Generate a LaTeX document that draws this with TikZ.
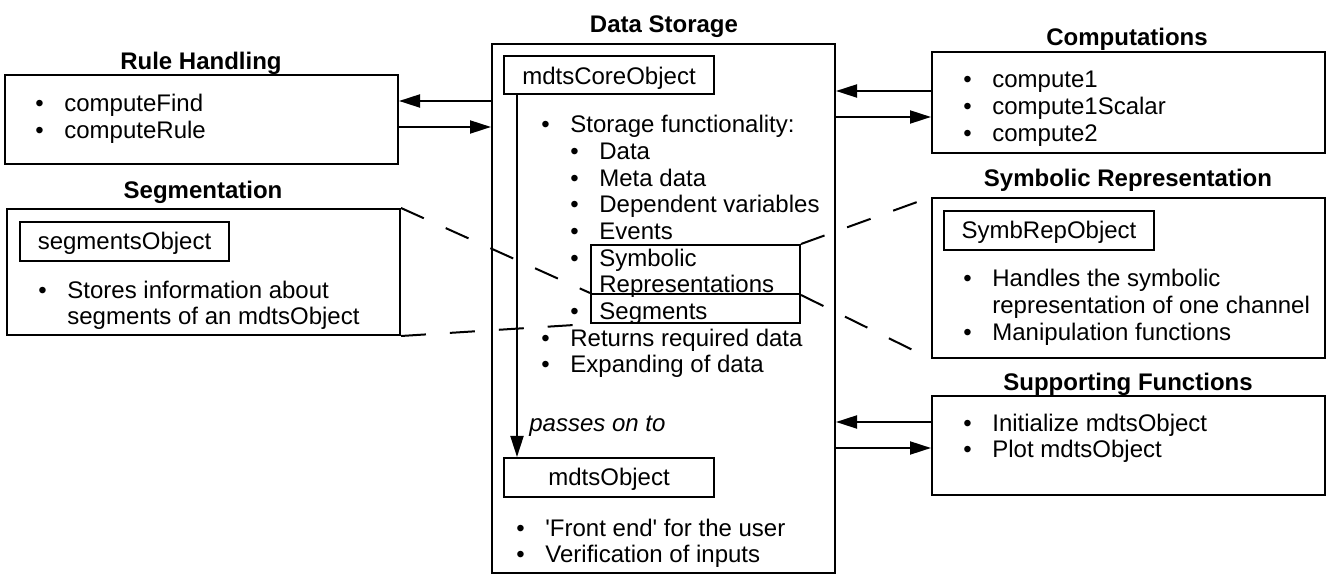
\documentclass[tikz,border=0pt]{standalone}
\usepackage{fontspec}
\setmainfont{Liberation Sans}
\usetikzlibrary{arrows.meta, fit}
\newcommand{\bul}{\makebox[14.5pt][l]{\textbullet}}
\newcommand{\nobul}{\makebox[14.5pt][l]{}}
\tikzset{
    every node/.style={font=\fontsize{12}{13.45}\selectfont, inner sep=0pt},
    panel/.style={draw, line width=1pt, inner sep=0pt},
    heading/.style={anchor=base, font=\fontsize{12}{13.45}\selectfont\bfseries},
    items/.style={anchor=base west, align=left}, % base = last line
    flow/.style={line width=1pt, -{Triangle[length=10.5pt, width=6.5pt]}},
    zoomline/.style={line width=1pt, dash pattern=on 12.5pt off 12pt},
}

\begin{document}
\begin{tikzpicture}[x=0.5pt, y=-0.5pt]
    \useasboundingbox (0,0) rectangle (1333,581);
    % outer panels
    \node[panel, fit={(5,75) (398,164)}] (rule) {};
    \node[panel, fit={(7,209) (400,335)}] (seg) {};
    \node[panel, fit={(492,44) (835,573)}] (store) {};
    \node[panel, fit={(932,52) (1325,153)}] (comp) {};
    \node[panel, fit={(932,198) (1325,358)}] (symrep) {};
    \node[panel, fit={(932,396) (1325,495)}] (supp) {};
    % object boxes
    \node[panel, fit={(20,222) (229,261)}] (segobj) {};
    \node[panel, fit={(504,56) (714,94)}] (core) {};
    \node[panel, fit={(504,458) (714,497)}] (mdts) {};
    \node[panel, fit={(944,211) (1154,250)}] (symobj) {};
    \node[panel, fit={(591,245) (800,294)}] (symbox) {};
    \node[panel, fit={(591,294) (800,323)}] (segsbox) {};

    \node[heading] (ruletitle) at (201,70) {Rule Handling};
    \node[heading] (segtitle) at (203,199) {Segmentation};
    \node[heading] (storetitle) at (664,33) {Data Storage};
    \node[heading] (comptitle) at (1127,46) {Computations};
    \node[heading] (symtitle) at (1128,187) {Symbolic Representation};
    \node[heading] (supptitle) at (1128,391) {Supporting Functions};

    \node[anchor=base] (segobjtext) at (124.5,249.5) {segmentsObject};
    \node[anchor=base] (coretext) at (609,84.5) {mdtsCoreObject};
    \node[anchor=base] (mdtstext) at (609,485.5) {mdtsObject};
    \node[anchor=base] (symobjtext) at (1049,238.5) {SymbRepObject};

    \node[items] (ruleitems) at (35,138.5) {\bul computeFind\\\bul computeRule};
    \node[items] (segitems) at (38,325)
        {\bul Stores information about\\\nobul segments of an mdtsObject};
    \node[items] (compitems) at (963,141.5)
        {\bul compute1\\\bul compute1Scalar\\\bul compute2};
    \node[items] (symitems) at (963,340.5) {\bul Handles the symbolic\\
        \nobul representation of one channel\\\bul Manipulation functions};
    \node[items] (suppitems) at (963,458)
        {\bul Initialize mdtsObject\\\bul Plot mdtsObject};
    \node[items, font=\fontsize{12}{13.35}\selectfont] (storeitems) at (541,373)
        {\bul Storage functionality:\\
        \nobul\bul Data\\\nobul\bul Meta data\\\nobul\bul Dependent variables\\
        \nobul\bul Events\\\nobul\bul Symbolic\\\nobul\nobul Representations\\
        \nobul\bul Segments\\\bul Returns required data\\\bul Expanding of data};
    \node[items, font=\fontsize{12}{13.45}\selectfont\itshape] (passes) at (529,431.5)
        {passes on to};
    \node[items] (mdtsitems) at (516,563)
        {\bul \textquotesingle Front end\textquotesingle{} for the user\\
        \bul Verification of inputs};

    \coordinate (y1) at (0,101);
    \coordinate (y2) at (0,127);
    \coordinate (y3) at (0,91);
    \coordinate (y4) at (0,117);
    \coordinate (y5) at (0,422);
    \coordinate (y6) at (0,448);
    \coordinate (vx) at (517,0);
    \draw[flow] (store.west |- y1) -- (rule.east |- y1);
    \draw[flow] (rule.east |- y2) -- (store.west |- y2);
    \draw[flow] (comp.west |- y3) -- (store.east |- y3);
    \draw[flow] (store.east |- y4) -- (comp.west |- y4);
    \draw[flow] (supp.west |- y5) -- (store.east |- y5);
    \draw[flow] (store.east |- y6) -- (supp.west |- y6);
    \draw[flow] (core.south -| vx) -- (mdts.north -| vx);

    \draw[zoomline] (seg.north east) -- (segsbox.north west);
    \draw[zoomline] (seg.south east) -- (segsbox.south west);
    \draw[zoomline] (symbox.north east) -- (symrep.north west);
    \draw[zoomline] (symbox.south east) -- (symrep.south west);
\end{tikzpicture}
\end{document}
